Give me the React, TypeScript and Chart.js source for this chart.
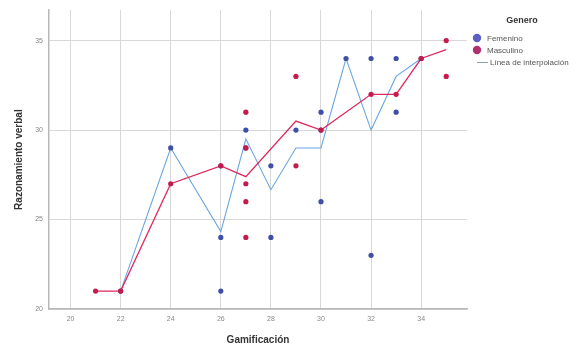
import React, { useEffect, useRef } from "react";
import { Chart, registerables } from "chart.js";

Chart.register(...registerables);

// Observed points: Femenino
const femX = [22, 24, 26, 26, 26, 27, 27, 28, 28, 29, 30, 30, 30, 31, 32, 32, 33, 33, 34];
const femY = [21, 29, 24, 21, 28, 30, 29, 28, 24, 30, 31, 26, 30, 34, 34, 23, 34, 31, 34];
// Observed points: Masculino
const masX = [21, 22, 24, 26, 27, 27, 27, 27, 27, 29, 29, 30, 32, 33, 34, 35, 35];
const masY = [21, 21, 27, 28, 31, 29, 27, 26, 24, 28, 33, 30, 32, 32, 34, 35, 33];
// Interpolation lines
const femLineX = [22, 24, 26, 27, 28, 29, 30, 31, 32, 33, 34];
const femLineY = [21, 29, 24.33, 29.5, 26.67, 29, 29, 34, 30, 33, 34];
const masLineX = [21, 22, 24, 26, 27, 29, 30, 32, 33, 34, 35];
const masLineY = [21, 21, 27, 28, 27.4, 30.5, 30, 32, 32, 34, 34.5];

const xTicks = [20, 22, 24, 26, 28, 30, 32, 34];
const yTicks = [20, 25, 30, 35];

const legendTitle = "Genero";
const legendLabels = ["Femenino", "Masculino", "Línea de interpolación"];
const xTitle = "Gamificación";
const yTitle = "Razonamiento verbal";

const FEM_POINT = "#3f4fa6";
const MAS_POINT = "#c41a4c";
const FEM_LINE = "#6aa6e0";
const MAS_LINE = "#e0285c";
const FONT = "'Liberation Sans', Arial, sans-serif";

const zip = (xs: number[], ys: number[]) => xs.map((x, i) => ({ x, y: ys[i] }));

const legendPlugin = {
  id: "customLegend",
  afterDraw(chart: any) {
    const ctx = chart.ctx;
    ctx.save();
    ctx.textBaseline = "middle";
    ctx.fillStyle = "#333";
    ctx.font = `bold 9px ${FONT}`;
    ctx.textAlign = "center";
    ctx.fillText(legendTitle, 522, 21);
    ctx.textAlign = "left";
    ctx.font = `8px ${FONT}`;
    // Femenino
    ctx.fillStyle = "#5b5fc2";
    ctx.beginPath();
    ctx.arc(477, 38, 4.2, 0, Math.PI * 2);
    ctx.fill();
    ctx.fillStyle = "#555";
    ctx.fillText(legendLabels[0], 487, 38.5);
    // Masculino
    ctx.fillStyle = "#b0306e";
    ctx.beginPath();
    ctx.arc(477, 50, 4.2, 0, Math.PI * 2);
    ctx.fill();
    ctx.fillStyle = "#555";
    ctx.fillText(legendLabels[1], 487, 50.5);
    // line
    ctx.strokeStyle = "#8a9ab0";
    ctx.lineWidth = 1;
    ctx.beginPath();
    ctx.moveTo(477, 62.5);
    ctx.lineTo(488, 62.5);
    ctx.stroke();
    ctx.fillStyle = "#555";
    ctx.fillText(legendLabels[2], 490, 62.5);
    ctx.restore();
  },
};

export default function App() {
  const ref = useRef<HTMLCanvasElement>(null);
  useEffect(() => {
    document.body.style.margin = "0";
    const chart = new Chart(ref.current!, {
      type: "scatter",
      data: {
        datasets: [
          {
            label: "Masculino",
            data: zip(masX, masY),
            backgroundColor: MAS_POINT,
            borderColor: MAS_POINT,
            pointRadius: 2.6,
            borderWidth: 0,
            showLine: false,
          },
          {
            label: "Femenino",
            data: zip(femX, femY),
            backgroundColor: FEM_POINT,
            borderColor: FEM_POINT,
            pointRadius: 2.6,
            borderWidth: 0,
            showLine: false,
          },
          {
            label: "Interp Masculino",
            data: zip(masLineX, masLineY),
            borderColor: MAS_LINE,
            borderWidth: 1.3,
            pointRadius: 0,
            showLine: true,
          },
          {
            label: "Interp Femenino",
            data: zip(femLineX, femLineY),
            borderColor: FEM_LINE,
            borderWidth: 1.1,
            pointRadius: 0,
            showLine: true,
          },
        ],
      },
      options: {
        animation: false,
        responsive: false,
        devicePixelRatio: 1,
        layout: { padding: { left: 0, right: 119, top: 10, bottom: 0 } },
        plugins: { legend: { display: false }, tooltip: { enabled: false } },
        scales: {
          x: {
            type: "linear",
            min: 19.14,
            max: 35.83,
            afterBuildTicks: (s: any) => {
              s.ticks = xTicks.map((v) => ({ value: v }));
            },
            afterFit: (s: any) => {
              s.height = 40;
            },
            grid: { color: "#d8d8d8", lineWidth: 1, drawTicks: false },
            border: { color: "#b8b8b8", width: 1.5 },
            ticks: { font: { size: 7, family: FONT }, color: "#888", padding: 6 },
            title: {
              display: true,
              text: xTitle,
              font: { size: 10, weight: "bold", family: FONT },
              color: "#333",
              padding: { top: 0, bottom: 3 },
            },
          },
          y: {
            type: "linear",
            min: 20,
            max: 36.7,
            afterBuildTicks: (s: any) => {
              s.ticks = yTicks.map((v) => ({ value: v }));
            },
            afterFit: (s: any) => {
              s.width = 49;
            },
            grid: { color: "#d8d8d8", lineWidth: 1, drawTicks: false },
            border: { color: "#b8b8b8", width: 1.5 },
            ticks: { font: { size: 7, family: FONT }, color: "#888", padding: 6 },
            title: {
              display: true,
              text: yTitle,
              font: { size: 10, weight: "bold", family: FONT },
              color: "#333",
              padding: { top: 13, bottom: 0 },
            },
          },
        },
      },
      plugins: [legendPlugin],
    } as any);
    return () => chart.destroy();
  }, []);
  return <canvas ref={ref} width={586} height={349} style={{ display: "block" }} />;
}
